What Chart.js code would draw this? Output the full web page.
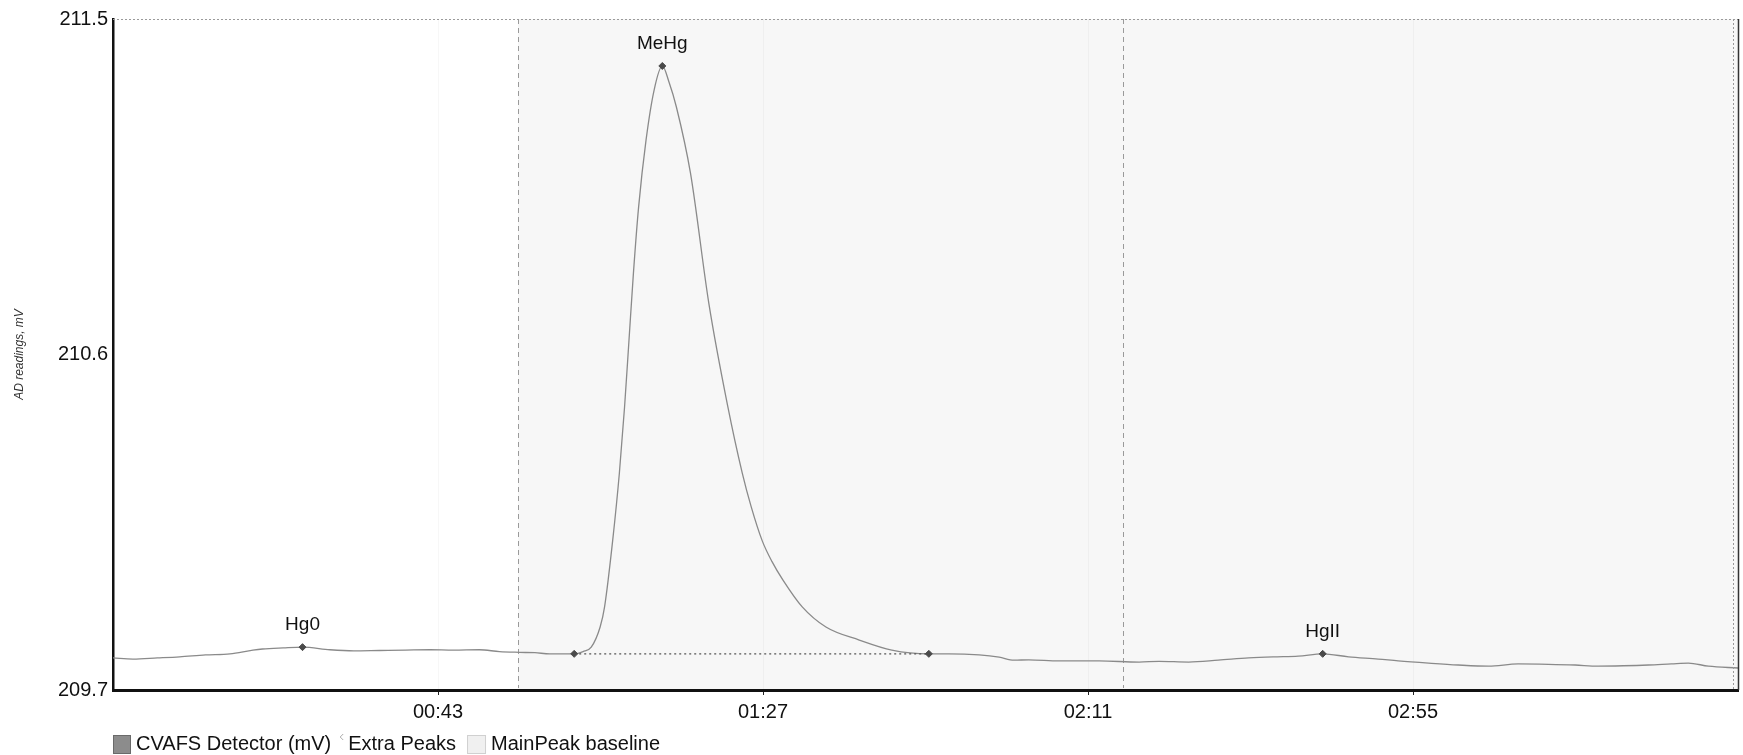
<!DOCTYPE html>
<html>
<head>
<meta charset="utf-8">
<script src="https://cdn.jsdelivr.net/npm/chart.js@4.4.1/dist/chart.umd.min.js"></script>
<style>
html, body { margin: 0; padding: 0; background: #fff; }
canvas { display: block; }
</style>
</head>
<body>
<canvas id="chart" width="1743" height="755"></canvas>
<script>
// detector trace (time in s, reading in mV)
const times = [0, 2.7, 6, 9, 12.5, 15.8, 18.9, 20.2, 23, 25.6, 29.3, 32.5, 36, 39.5, 42.8, 46, 49.5, 52.2, 54.9, 57, 59,
	62.3, 63.5, 64.6, 65.8, 66.4, 67.5, 68.4, 69.1, 69.7, 70.3, 71, 72, 73.1, 74.2, 75.1, 76.1, 78, 80.5,
	83, 85, 86.2, 87.7, 89, 90.5, 93.1, 96.3, 100.8, 105.2, 110.2, 112.9, 117, 119.7, 121.7, 123.7, 127.8, 133.2,
	138.6, 141.3, 145.3, 149.3, 153.4, 156.7, 160.1, 163.4, 166.9, 170.9, 173.6, 177.7, 181.7, 185.8, 189.8, 193.9,
	197.5, 200.6, 204, 207.4, 210.5, 212.8, 215.5, 219.5];
const readings = [209.786, 209.783, 209.786, 209.789, 209.794, 209.797, 209.807, 209.810, 209.813, 209.815, 209.808,
	209.805, 209.806, 209.807, 209.808, 209.807, 209.808, 209.803, 209.801, 209.800, 209.797,
	209.797, 209.803, 209.815, 209.869, 209.923, 210.102, 210.282, 210.459, 210.639, 210.819, 210.996, 211.175, 211.310,
	211.374, 211.331, 211.264, 211.087, 210.735, 210.465, 210.282, 210.192, 210.100, 210.045,
	209.995, 209.923, 209.869, 209.834, 209.807, 209.797, 209.797, 209.794, 209.788, 209.780, 209.781, 209.778, 209.778,
	209.775, 209.777, 209.775, 209.780, 209.786, 209.789, 209.791, 209.797, 209.789, 209.783, 209.778, 209.772, 209.767,
	209.764, 209.770, 209.769, 209.767, 209.764, 209.765, 209.767, 209.770, 209.772, 209.764, 209.759];

// integration markers
const peakNames = ["Hg0", "", "MeHg", "", "HgII"];
const peakTimes = [25.6, 62.3, 74.2, 110.2, 163.4];
const peakValues = [209.815, 209.797, 211.374, 209.797, 209.797];

// main peak baseline
const baselineTimes = [62.3, 110.2];
const baselineValues = [209.797, 209.797];

// integration window edges
const windowTimes = [54.7, 136.4];

const xTickValues = [43.9, 87.8, 131.7, 175.6];
const xTickLabels = ["00:43", "01:27", "02:11", "02:55"];
const yTickValues = [209.7, 210.6, 211.5];

const FONT = "Arial, 'Liberation Sans', sans-serif";

const toPoints = (xs, ys) => xs.map((x, i) => ({ x: x, y: ys[i] }));

const windowPlugin = {
	id: "windowPlugin",
	// light shading from the window start, painted under the axes
	beforeDraw(chart) {
		const { ctx, chartArea, scales } = chart;
		const x0 = scales.x.getPixelForValue(windowTimes[0]);
		ctx.save();
		ctx.fillStyle = "#f7f7f7";
		ctx.fillRect(x0, chartArea.top, chartArea.right - x0, chartArea.bottom - chartArea.top);
		ctx.restore();
	},
	beforeDatasetsDraw(chart) {
		const { ctx, chartArea, scales } = chart;
		ctx.save();
		ctx.strokeStyle = "#9a9a9a";
		ctx.lineWidth = 1;
		ctx.setLineDash([5, 4]);
		windowTimes.forEach((t) => {
			const x = Math.round(scales.x.getPixelForValue(t)) + 0.5;
			ctx.beginPath();
			ctx.moveTo(x, chartArea.top);
			ctx.lineTo(x, chartArea.bottom - 2);
			ctx.stroke();
		});
		ctx.restore();
	},
};

const peakLabelPlugin = {
	id: "peakLabelPlugin",
	afterDatasetsDraw(chart) {
		const { ctx } = chart;
		const meta = chart.getDatasetMeta(1);
		ctx.save();
		ctx.font = "19px " + FONT;
		ctx.fillStyle = "#111";
		ctx.textAlign = "center";
		ctx.textBaseline = "middle";
		meta.data.forEach((pt, i) => {
			if (peakNames[i]) ctx.fillText(peakNames[i], pt.x, pt.y - 22);
		});
		ctx.restore();
	},
};

const framePlugin = {
	id: "framePlugin",
	afterDraw(chart) {
		const { ctx, chartArea } = chart;
		ctx.save();
		ctx.strokeStyle = "#9a9a9a";
		ctx.lineWidth = 1;
		ctx.setLineDash([2, 2]);
		ctx.beginPath();
		ctx.moveTo(chartArea.left, chartArea.top + 0.5);
		ctx.lineTo(chartArea.right, chartArea.top + 0.5);
		ctx.moveTo(chartArea.right - 4.5, chartArea.top);
		ctx.lineTo(chartArea.right - 4.5, chartArea.bottom);
		ctx.stroke();
		ctx.setLineDash([]);
		ctx.strokeStyle = "#333";
		ctx.lineWidth = 1.5;
		ctx.beginPath();
		ctx.moveTo(chartArea.right + 0.5, chartArea.top);
		ctx.lineTo(chartArea.right + 0.5, chartArea.bottom);
		ctx.stroke();
		ctx.restore();
	},
};

// legend drawn along the bottom edge, left aligned with the plot
const legendPlugin = {
	id: "bottomLegend",
	afterDraw(chart) {
		const { ctx, chartArea } = chart;
		const sets = chart.data.datasets;
		const yMid = 744;
		let x = chartArea.left;
		ctx.save();
		ctx.font = "20px " + FONT;
		ctx.textBaseline = "middle";

		// trace box
		ctx.fillStyle = "#8c8c8c";
		ctx.fillRect(x, yMid - 9, 18, 19);
		ctx.strokeStyle = "#6a6a6a";
		ctx.strokeRect(x + 0.5, yMid - 8.5, 17, 18);
		x += 23;
		ctx.fillStyle = "#111";
		ctx.fillText(sets[0].label, x, yMid);
		x += ctx.measureText(sets[0].label).width + 8;

		// extra peaks glyph
		ctx.strokeStyle = "#aaa";
		ctx.lineWidth = 1;
		ctx.beginPath();
		ctx.moveTo(x + 4, yMid - 10);
		ctx.lineTo(x + 1, yMid - 7);
		ctx.lineTo(x + 4, yMid - 4);
		ctx.stroke();
		x += 9;
		ctx.fillText(sets[1].label, x, yMid);
		x += ctx.measureText(sets[1].label).width + 11;

		// baseline box
		ctx.fillStyle = "#f0f0f0";
		ctx.fillRect(x, yMid - 9, 19, 19);
		ctx.strokeStyle = "#d0d0d0";
		ctx.strokeRect(x + 0.5, yMid - 8.5, 18, 18);
		x += 24;
		ctx.fillStyle = "#111";
		ctx.fillText(sets[2].label, x, yMid);
		ctx.restore();
	},
};

new Chart(document.getElementById("chart"), {
	type: "line",
	data: {
		datasets: [
			{
				label: "CVAFS Detector (mV)",
				data: toPoints(times, readings),
				borderColor: "#8a8a8a",
				borderWidth: 1.3,
				pointRadius: 0,
				cubicInterpolationMode: "monotone",
				order: 2,
			},
			{
				label: "Extra Peaks",
				data: toPoints(peakTimes, peakValues),
				showLine: false,
				pointStyle: "rectRot",
				pointRadius: 3.5,
				pointBackgroundColor: "#4a4a4a",
				pointBorderColor: "#4a4a4a",
				pointBorderWidth: 1,
				order: 0,
			},
			{
				label: "MainPeak baseline",
				data: toPoints(baselineTimes, baselineValues),
				borderColor: "#555",
				borderWidth: 1.2,
				borderDash: [2, 3],
				pointRadius: 0,
				order: 1,
			},
		],
	},
	options: {
		responsive: false,
		animation: false,
		layout: { padding: { top: 19, right: 3, bottom: 33, left: 0 } },
		plugins: {
			legend: { display: false },
			tooltip: { enabled: false },
		},
		scales: {
			x: {
				type: "linear",
				min: 0,
				max: 219.5,
				afterBuildTicks: (scale) => {
					scale.ticks = xTickValues.map((v) => ({ value: v }));
				},
				afterFit: (scale) => {
					scale.height = 32;
				},
				ticks: {
					autoSkip: false,
					maxRotation: 0,
					padding: 5,
					color: "#111",
					font: { family: FONT, size: 20 },
					callback: (value, index) => xTickLabels[index],
				},
				grid: {
					color: "rgba(0,0,0,0.03)",
					tickColor: "#222",
					tickLength: 5,
				},
				border: { color: "#111", width: 3 },
			},
			y: {
				min: 209.7,
				max: 211.5,
				afterBuildTicks: (scale) => {
					scale.ticks = yTickValues.map((v) => ({ value: v }));
				},
				afterFit: (scale) => {
					scale.width = 113;
				},
				ticks: {
					padding: 5,
					color: "#111",
					font: { family: FONT, size: 20 },
					callback: (value) => value.toFixed(1),
				},
				grid: { color: "rgba(0,0,0,0)", drawTicks: false },
				border: { color: "#111", width: 2.5 },
				title: {
					display: true,
					text: "AD readings, mV",
					color: "#333",
					padding: { top: 12, bottom: 4 },
					font: { family: FONT, size: 12, style: "italic" },
				},
			},
		},
	},
	plugins: [windowPlugin, peakLabelPlugin, framePlugin, legendPlugin],
});
</script>
</body>
</html>
